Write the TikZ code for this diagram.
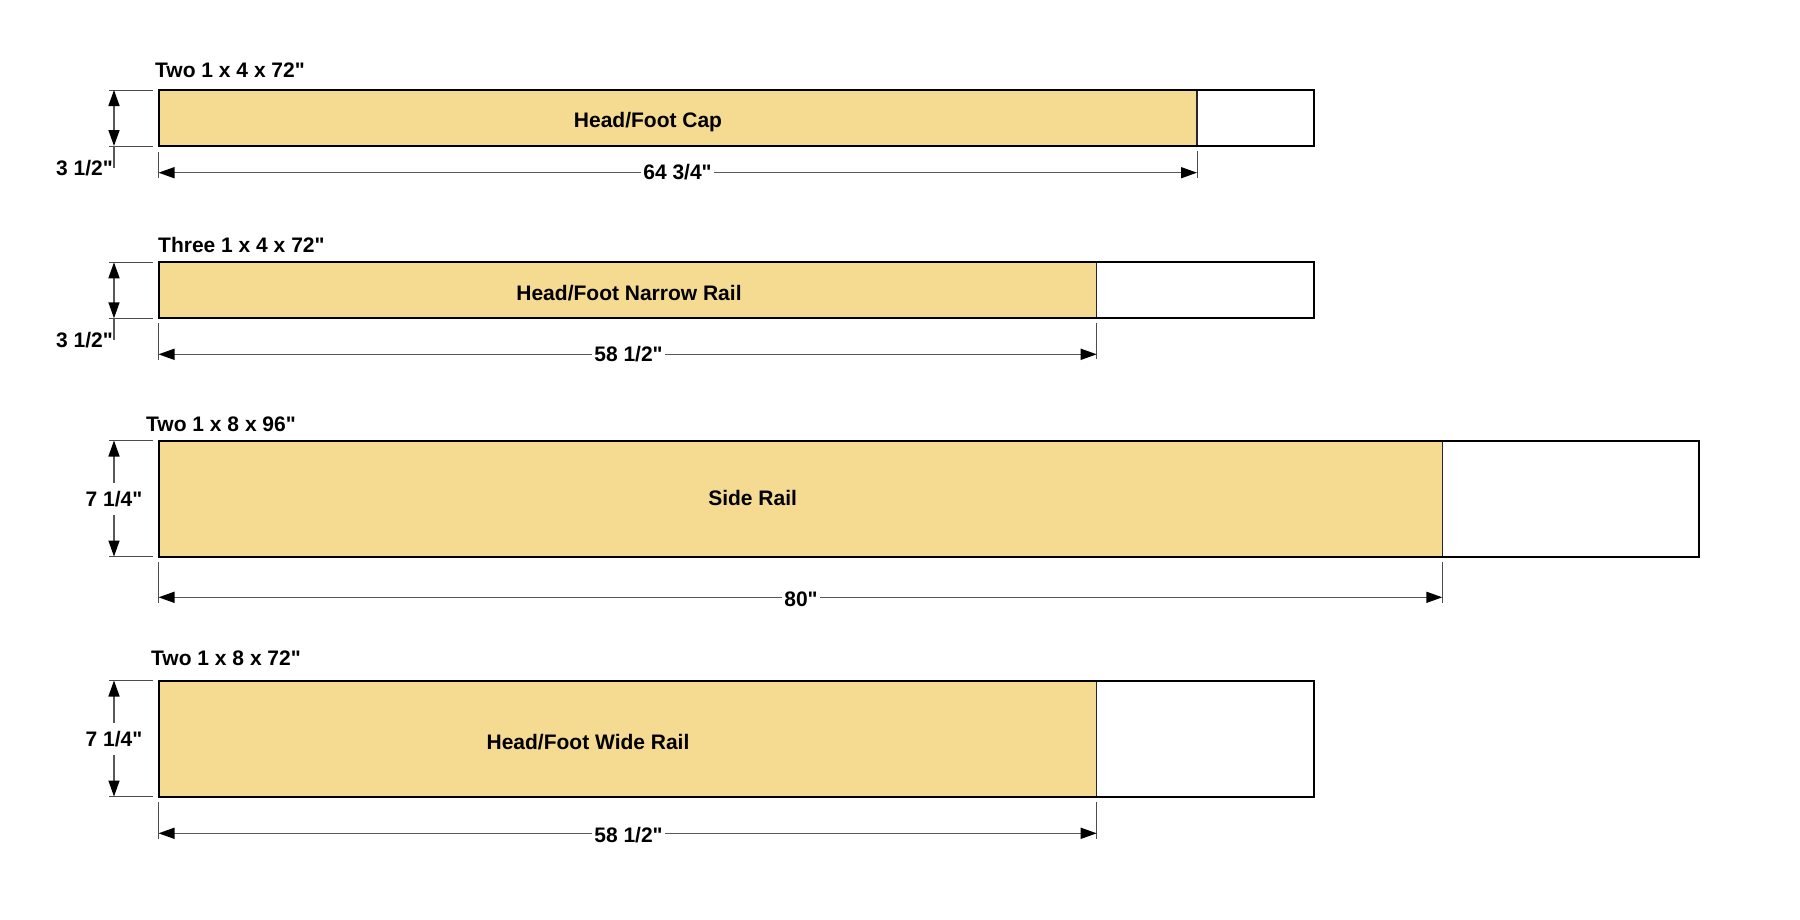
\documentclass[tikz,border=0pt]{standalone}
\usepackage{fontspec}
\newfontfamily\lsans{Liberation Sans}
\usetikzlibrary{arrows.meta}
\definecolor{woodc}{RGB}{245,218,146}
\begin{document}
\begin{tikzpicture}[x=1pt,y=-1pt,
  lbl/.style={font=\lsans\fontsize{21}{25}\selectfont\bfseries, inner sep=0pt},
  hdim/.style={lbl, fill=white, inner xsep=2pt, inner ysep=3pt},
  vdim/.style={lbl, fill=white, inner xsep=2pt, inner ysep=8pt},
  board/.style={draw=black, line width=2pt},
  cutline/.style={draw=black!85, line width=1.5pt},
  dimline/.style={draw=black!65, line width=1.5pt},
  tip/.tip={Triangle[length=16pt,width=11pt,color=black,fill=black]},
  dimarr/.style={dimline, tip-tip},
  extline/.style={draw=black!70, line width=1pt}]
\useasboundingbox (0,0) rectangle (1800,919);

% ---------- Board 1 ----------
\coordinate (b1tl) at (158.5,90);
\coordinate (b1br) at (1314,146);
\coordinate (b1ct) at (1197,90);
\coordinate (b1cb) at (1197,146);
\fill[woodc] (b1tl) rectangle (b1cb);
\draw[cutline] (b1ct) -- (b1cb);
\draw[board] (b1tl) rectangle (b1br);
\node[lbl, anchor=base west] (t1) at (155,77) {Two 1 x 4 x 72"};
\node[lbl, anchor=base] (n1) at (648,127) {Head/Foot Cap};
% height
\coordinate (h1a) at (109,90); \coordinate (h1b) at (153,90);
\coordinate (h1c) at (109,146); \coordinate (h1d) at (153,146);
\draw[extline] (h1a) -- (h1b);
\draw[extline] (h1c) -- (h1d);
\coordinate (v1t) at (114,90); \coordinate (v1b) at (114,146); \coordinate (v1e) at (114,168);
\draw[dimarr] (v1t) -- (v1b);
\draw[dimline] (v1b) -- (v1e);
\node[lbl, anchor=base east] (d1h) at (113,175) {3 1/2"};
% length
\coordinate (e1a) at (158.5,152); \coordinate (e1b) at (158.5,178);
\coordinate (e1c) at (1197,151); \coordinate (e1d) at (1197,178);
\draw[extline] (e1a) -- (e1b);
\draw[extline] (e1c) -- (e1d);
\coordinate (l1a) at (158.5,172.7); \coordinate (l1b) at (1197,172.7);
\draw[dimarr] (l1a) -- (l1b);
\node[hdim, anchor=base] (d1l) at (677.5,179) {64 3/4"};

% ---------- Board 2 ----------
\coordinate (b2tl) at (158.5,262.3);
\coordinate (b2br) at (1314,318.3);
\coordinate (b2ct) at (1096.7,262.3);
\coordinate (b2cb) at (1096.7,318.3);
\fill[woodc] (b2tl) rectangle (b2cb);
\draw[cutline] (b2ct) -- (b2cb);
\draw[board] (b2tl) rectangle (b2br);
\node[lbl, anchor=base west] (t2) at (158,252) {Three 1 x 4 x 72"};
\node[lbl, anchor=base] (n2) at (629,300.7) {Head/Foot Narrow Rail};
\coordinate (h2a) at (109,262.3); \coordinate (h2b) at (153,262.3);
\coordinate (h2c) at (109,318.3); \coordinate (h2d) at (153,318.3);
\draw[extline] (h2a) -- (h2b);
\draw[extline] (h2c) -- (h2d);
\coordinate (v2t) at (114,262.3); \coordinate (v2b) at (114,318.3); \coordinate (v2e) at (114,340);
\draw[dimarr] (v2t) -- (v2b);
\draw[dimline] (v2b) -- (v2e);
\node[lbl, anchor=base east] (d2h) at (113,347) {3 1/2"};
\coordinate (e2a) at (158.5,323); \coordinate (e2b) at (158.5,360);
\coordinate (e2c) at (1096.7,323); \coordinate (e2d) at (1096.7,359);
\draw[extline] (e2a) -- (e2b);
\draw[extline] (e2c) -- (e2d);
\coordinate (l2a) at (158.5,354.3); \coordinate (l2b) at (1096.7,354.3);
\draw[dimarr] (l2a) -- (l2b);
\node[hdim, anchor=base] (d2l) at (628.5,361.7) {58 1/2"};

% ---------- Board 3 ----------
\coordinate (b3tl) at (158.5,440.5);
\coordinate (b3br) at (1699,556.5);
\coordinate (b3ct) at (1442.3,440.5);
\coordinate (b3cb) at (1442.3,556.5);
\fill[woodc] (b3tl) rectangle (b3cb);
\draw[cutline] (b3ct) -- (b3cb);
\draw[board] (b3tl) rectangle (b3br);
\node[lbl, anchor=base west] (t3) at (146,431) {Two 1 x 8 x 96"};
\node[lbl, anchor=base] (n3) at (752.6,505) {Side Rail};
\coordinate (h3a) at (109,440.5); \coordinate (h3b) at (153,440.5);
\coordinate (h3c) at (109,556.5); \coordinate (h3d) at (153,556.5);
\draw[extline] (h3a) -- (h3b);
\draw[extline] (h3c) -- (h3d);
\coordinate (v3t) at (114,440.5); \coordinate (v3b) at (114,556.5);
\draw[dimarr] (v3t) -- (v3b);
\node[vdim, anchor=base] (d3h) at (114,506.5) {7 1/4"};
\coordinate (e3a) at (158.5,562); \coordinate (e3b) at (158.5,603);
\coordinate (e3c) at (1442.3,562); \coordinate (e3d) at (1442.3,603);
\draw[extline] (e3a) -- (e3b);
\draw[extline] (e3c) -- (e3d);
\coordinate (l3a) at (158.5,597.3); \coordinate (l3b) at (1442.3,597.3);
\draw[dimarr] (l3a) -- (l3b);
\node[hdim, anchor=base] (d3l) at (801,606) {80"};

% ---------- Board 4 ----------
\coordinate (b4tl) at (158.5,680.5);
\coordinate (b4br) at (1314,796.5);
\coordinate (b4ct) at (1096.7,680.5);
\coordinate (b4cb) at (1096.7,796.5);
\fill[woodc] (b4tl) rectangle (b4cb);
\draw[cutline] (b4ct) -- (b4cb);
\draw[board] (b4tl) rectangle (b4br);
\node[lbl, anchor=base west] (t4) at (151,665) {Two 1 x 8 x 72"};
\node[lbl, anchor=base] (n4) at (588,749.5) {Head/Foot Wide Rail};
\coordinate (h4a) at (109,680.5); \coordinate (h4b) at (153,680.5);
\coordinate (h4c) at (109,796.5); \coordinate (h4d) at (153,796.5);
\draw[extline] (h4a) -- (h4b);
\draw[extline] (h4c) -- (h4d);
\coordinate (v4t) at (114,680.5); \coordinate (v4b) at (114,796.5);
\draw[dimarr] (v4t) -- (v4b);
\node[vdim, anchor=base] (d4h) at (114,746.5) {7 1/4"};
\coordinate (e4a) at (158.5,802); \coordinate (e4b) at (158.5,839);
\coordinate (e4c) at (1096.7,802); \coordinate (e4d) at (1096.7,839);
\draw[extline] (e4a) -- (e4b);
\draw[extline] (e4c) -- (e4d);
\coordinate (l4a) at (158.5,833.3); \coordinate (l4b) at (1096.7,833.3);
\draw[dimarr] (l4a) -- (l4b);
\node[hdim, anchor=base] (d4l) at (628.5,842.5) {58 1/2"};
\end{tikzpicture}
\end{document}
